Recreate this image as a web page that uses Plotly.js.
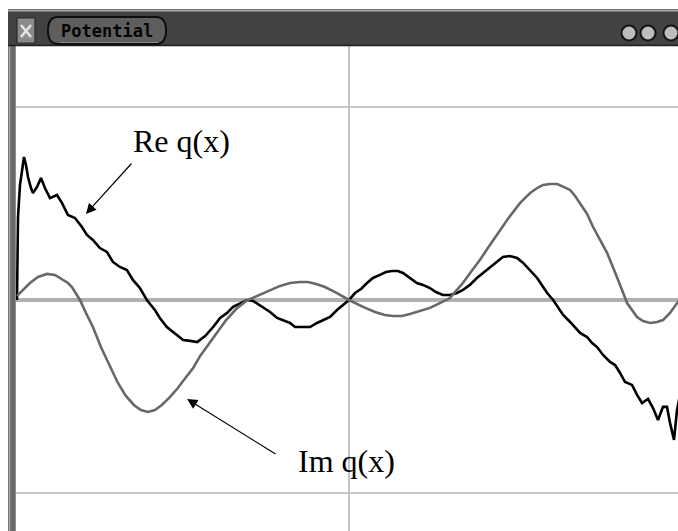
<!DOCTYPE html>
<html><head><meta charset="utf-8">
<script src="https://cdn.plot.ly/plotly-3.0.1.min.js"></script>
<style>html,body{margin:0;padding:0;background:#fff;overflow:hidden;width:678px;height:531px}</style>
</head><body><div id="chart" style="width:684px;height:531px"></div>
<script>
// ---- data ----
const reX=[-0.997,-0.994,-0.988,-0.982,-0.976,-0.970,-0.964,-0.955,-0.949,-0.943,-0.937,-0.925,-0.913,-0.898,-0.886,-0.877,-0.862,-0.844,-0.823,-0.802,-0.787,-0.769,-0.748,-0.727,-0.709,-0.688,-0.667,-0.649,-0.628,-0.607,-0.583,-0.568,-0.547,-0.523,-0.498,-0.477,-0.456,-0.432,-0.408,-0.387,-0.366,-0.348,-0.327,-0.306,-0.288,-0.273,-0.258,-0.237,-0.216,-0.198,-0.177,-0.162,-0.147,-0.132,-0.117,-0.096,-0.078,-0.057,-0.036,-0.018,0,0.018,0.036,0.054,0.072,0.093,0.111,0.129,0.147,0.162,0.183,0.204,0.222,0.243,0.261,0.282,0.303,0.324,0.342,0.363,0.384,0.402,0.423,0.444,0.462,0.483,0.505,0.523,0.544,0.565,0.583,0.595,0.613,0.628,0.643,0.664,0.679,0.694,0.715,0.730,0.745,0.763,0.784,0.799,0.814,0.829,0.850,0.865,0.880,0.898,0.913,0.928,0.943,0.955,0.964,0.976,0.985,0.994];
const reY=[0,0.430,0.596,0.658,0.741,0.699,0.637,0.580,0.554,0.570,0.585,0.632,0.580,0.528,0.539,0.544,0.503,0.440,0.425,0.378,0.337,0.311,0.269,0.249,0.197,0.171,0.155,0.104,0.062,0,-0.052,-0.093,-0.140,-0.171,-0.207,-0.212,-0.218,-0.187,-0.140,-0.093,-0.067,-0.036,-0.016,0,-0.005,-0.021,-0.041,-0.062,-0.093,-0.104,-0.119,-0.140,-0.140,-0.140,-0.140,-0.119,-0.104,-0.088,-0.052,-0.026,0,0.036,0.057,0.088,0.114,0.130,0.145,0.150,0.150,0.140,0.114,0.088,0.078,0.062,0.041,0.026,0.026,0.036,0.052,0.078,0.114,0.140,0.171,0.197,0.223,0.228,0.218,0.192,0.155,0.114,0.067,0.036,0,-0.041,-0.078,-0.114,-0.140,-0.171,-0.192,-0.223,-0.244,-0.285,-0.321,-0.337,-0.378,-0.425,-0.440,-0.492,-0.534,-0.513,-0.560,-0.622,-0.554,-0.554,-0.637,-0.725,-0.570,-0.492];
const imX=[-0.997,-0.976,-0.958,-0.934,-0.907,-0.883,-0.862,-0.844,-0.832,-0.820,-0.808,-0.790,-0.769,-0.745,-0.718,-0.694,-0.670,-0.646,-0.625,-0.604,-0.583,-0.562,-0.538,-0.514,-0.489,-0.468,-0.447,-0.423,-0.396,-0.369,-0.339,-0.309,-0.282,-0.261,-0.237,-0.207,-0.177,-0.147,-0.123,-0.099,-0.072,-0.036,0,0.042,0.078,0.108,0.132,0.159,0.183,0.213,0.243,0.273,0.303,0.324,0.342,0.366,0.393,0.417,0.444,0.477,0.514,0.544,0.565,0.583,0.604,0.625,0.646,0.664,0.679,0.694,0.715,0.733,0.754,0.775,0.790,0.805,0.820,0.835,0.850,0.865,0.883,0.904,0.925,0.943,0.964,0.988,1.000];
const imY=[0.021,0.057,0.088,0.119,0.135,0.130,0.109,0.088,0.067,0.036,0,-0.067,-0.140,-0.244,-0.347,-0.430,-0.497,-0.544,-0.570,-0.580,-0.570,-0.544,-0.503,-0.456,-0.399,-0.352,-0.290,-0.233,-0.171,-0.104,-0.047,-0.005,0.016,0.031,0.052,0.073,0.088,0.093,0.093,0.083,0.067,0.036,0,-0.036,-0.062,-0.078,-0.083,-0.083,-0.073,-0.057,-0.041,-0.016,0.010,0.052,0.088,0.145,0.207,0.269,0.337,0.420,0.503,0.554,0.580,0.596,0.601,0.601,0.585,0.570,0.539,0.503,0.446,0.378,0.311,0.244,0.181,0.119,0.052,-0.016,-0.052,-0.088,-0.109,-0.119,-0.114,-0.104,-0.067,-0.010,0.010];
const yGridVals=[-1,0,1];
const xGridVals=[0];
const windowTitle='Potential';
const labelRe='Re q(x)';
const labelIm='Im q(x)';
// label anchor / arrow positions in data units
const reLabel={x:-0.502,y:0.824}, reArrow={tx:-0.649,ty:0.715,hx:-0.790,hy:0.446};
const imLabel={x:-0.009,y:-0.834}, imArrow={tx:-0.216,ty:-0.803,hx:-0.486,hy:-0.513};

// ---- layout helpers ----
const W=684,H=531,ML=16,MR=2,MT=46,MB=0;
const PW=W-ML-MR, PH=H-MT-MB;
const px=X=>(X-ML)/PW, py=Y=>(H-MB-Y)/PH;
function rect(x0,y0,x1,y1,fill,line,lw){return {type:'rect',xref:'paper',yref:'paper',x0:px(x0),x1:px(x1),y0:py(y1),y1:py(y0),fillcolor:fill,line:{color:line||fill,width:lw||0},layer:'above'};}
function seg(x0,y0,x1,y1,color,w){return {type:'line',xref:'paper',yref:'paper',x0:px(x0),y0:py(y0),x1:px(x1),y1:py(y1),line:{color:color,width:w},layer:'above'};}
function circ(cx,cy,r,fill,line){return {type:'circle',xref:'paper',yref:'paper',x0:px(cx-r),x1:px(cx+r),y0:py(cy+r),y1:py(cy-r),fillcolor:fill,line:{color:line,width:2},layer:'above'};}
function pill(x0,y0,x1,y1,r,fill,line){
  const m=(y0+y1)/2, P=(x,y)=>px(x)+','+py(y);
  const d='M'+P(x0+r,y0)+' L'+P(x1-r,y0)+' Q'+P(x1,y0)+' '+P(x1,m)+' Q'+P(x1,y1)+' '+P(x1-r,y1)+' L'+P(x0+r,y1)+' Q'+P(x0,y1)+' '+P(x0,m)+' Q'+P(x0,y0)+' '+P(x0+r,y0)+' Z';
  return {type:'path',xref:'paper',yref:'paper',path:d,fillcolor:fill,line:{color:line,width:2},layer:'above'};
}

const shapes=[
  rect(0,0,W,9,'#ffffff'),
  rect(8,9,16,H,'#6a6a6a'),
  seg(9.5,9,9.5,H,'#a8a8a8',1.5),
  seg(15.5,46,15.5,H,'#8e8e8e',1),
  rect(8,9,W,46,'#424242'),
  seg(8,10.5,W,10.5,'#a8a8a8',2),
  seg(8,45.5,W,45.5,'#1e1e1e',1.5),
  rect(17,18,35,43,'#8a8a8a','#2a2a2a',1.2),
  seg(21,25,31,37,'#e4e4e4',2.5),
  seg(31,25,21,37,'#e4e4e4',2.5),
  pill(48,17,166,44,10,'#5e5e5e','#0e0e0e'),
  seg(60,42.5,158,42.5,'#8c8c8c',1.2),
  circ(629,33,7.5,'#bdbdbd','#151515'),
  circ(648,33,7.5,'#bdbdbd','#151515'),
  circ(671,33,7.5,'#bdbdbd','#151515')
];

const traces=[
  {x:reX,y:reY,type:'scatter',mode:'lines',line:{color:'#000000',width:2.6},hoverinfo:'skip'},
  {x:imX,y:imY,type:'scatter',mode:'lines',line:{color:'#686868',width:2.6},hoverinfo:'skip'}
];

const annotations=[
  {xref:'paper',yref:'paper',x:px(107),y:py(31),text:'<b>'+windowTitle+'</b>',showarrow:false,xanchor:'center',yanchor:'middle',font:{family:'DejaVu Sans Mono',size:17,color:'#050505'}},
  {x:reLabel.x,y:reLabel.y,text:labelRe,showarrow:false,xanchor:'center',yanchor:'middle',font:{family:'Liberation Serif',size:32,color:'#000'}},
  {x:imLabel.x,y:imLabel.y,text:labelIm,showarrow:false,xanchor:'center',yanchor:'middle',font:{family:'Liberation Serif',size:32,color:'#000'}},
  {x:reArrow.hx,y:reArrow.hy,ax:reArrow.tx,ay:reArrow.ty,axref:'x',ayref:'y',text:'',showarrow:true,arrowhead:2,arrowsize:1.7,arrowwidth:1.2,arrowcolor:'#000'},
  {x:imArrow.hx,y:imArrow.hy,ax:imArrow.tx,ay:imArrow.ty,axref:'x',ayref:'y',text:'',showarrow:true,arrowhead:2,arrowsize:1.7,arrowwidth:1.2,arrowcolor:'#000'}
];

const layout={
  width:W,height:H,margin:{l:ML,r:MR,t:MT,b:MB,pad:0},
  paper_bgcolor:'#ffffff',plot_bgcolor:'#ffffff',showlegend:false,
  xaxis:{range:[-1,1],tickvals:xGridVals,showticklabels:false,ticks:'',showgrid:true,gridcolor:'#c4c4c4',gridwidth:1.2,zeroline:false,showline:false,fixedrange:true},
  yaxis:{range:[-1.197,1.316],tickvals:yGridVals,showticklabels:false,ticks:'',showgrid:true,gridcolor:'#c8c8c8',gridwidth:1.6,zeroline:true,zerolinecolor:'#b0b0b0',zerolinewidth:4,showline:false,fixedrange:true},
  shapes:shapes,annotations:annotations
};
Plotly.newPlot('chart',traces,layout,{staticPlot:true,displayModeBar:false});
</script></body></html>
